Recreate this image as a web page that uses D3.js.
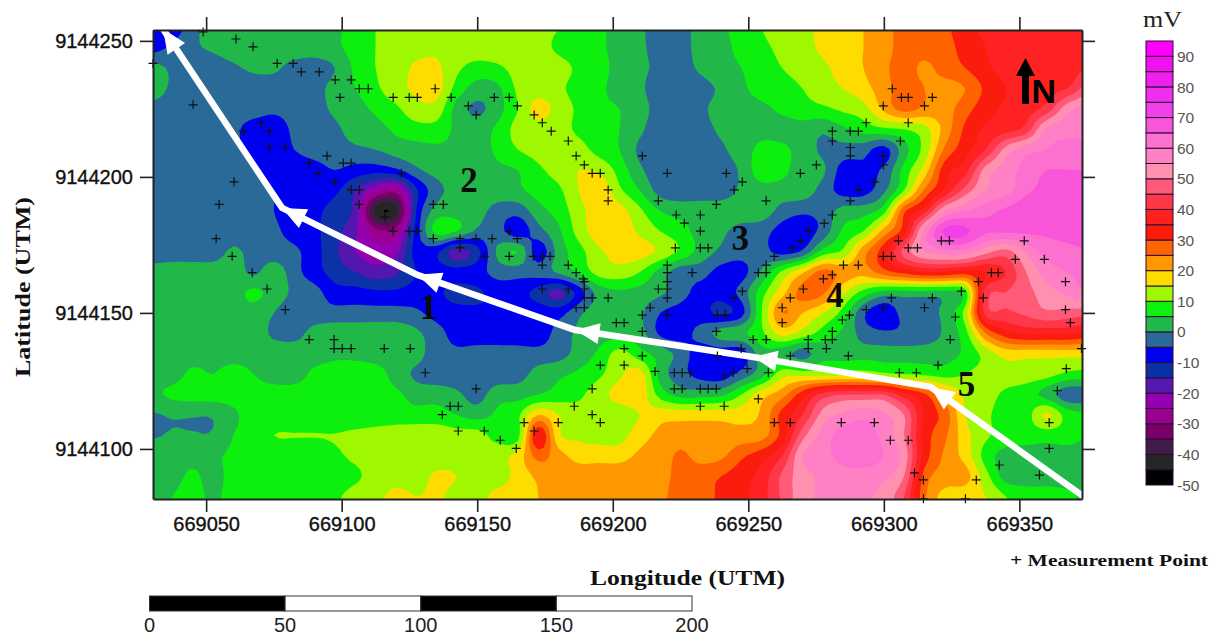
<!DOCTYPE html>
<html><head><meta charset="utf-8">
<script src="https://cdn.jsdelivr.net/npm/d3@7"></script>
<style>html,body{margin:0;padding:0;background:#fff}svg{display:block}</style>
</head><body><svg id="c" width="1217" height="637"></svg>
<script>
// --- DATA ---------------------------------------------------------------
const lonTicks=[669050,669100,669150,669200,669250,669300,669350];
const latTicks=[9144250,9144200,9144150,9144100];
const legendTicks=[90,80,70,60,50,40,30,20,10,0,-10,-20,-30,-40,-50];
const scaleTicks=[0,50,100,150,200];
const bandThresholds=[-50,-45,-40,-35,-30,-25,-20,-15,-10,-5,0,5,10,15,20,25,30,35,40,45,50,55,60,65,70,75,80,85,90];
const bandColors=["#000000","#262626","#421c48","#780068","#990090","#9400b0","#5518b0","#0a30a8","#0000f0","#2a6a98","#20b848","#10f010","#a0f800","#ffdc00","#ff9800","#ff6400","#fa1c08","#ff2020","#ff3848","#ff5a78","#ff90b0","#ff80c4","#fc70d0","#f855d8","#f040e8","#ee30ee","#ee20ee","#f010f0","#ff00ff"];
const gridLon0=669030, gridLat0=9144255, gridStep=7.5;
const potential=[
[-8,-8,-2,3,3,3,3,3,3,4,7,10,12,13,13,13,13,13,13,12,10,8,6,3,1,-3,-2,2,4,7,10,12,14,16,18,20,23,27,27,29,33,36,37,37,37,37,37],
[-7,-4,-1,1,3,3,3,3,3,4,7,10,12,13,14,13,13,13,13,12,9,7,6,3,1,-2,-2,2,4,6,9,11,13,16,18,20,23,27,27,28,32,35,37,38,38,38,36],
[2,-1,-3,-3,-1,1,1,-2,-3,0,6,10,12,16,16,11,8,9,12,13,12,9,7,3,1,-1,-2,1,4,5,8,10,12,14,17,20,24,27,24,27,30,34,37,39,38,37,40],
[3,-1,-3,-3,-3,-3,-3,-3,-2,2,5,9,13,16,17,8,3,4,11,13,11,8,6,3,1,-3,-3,-2,1,4,7,8,10,13,15,18,23,27,25,23,25,31,35,37,38,40,47],
[-2,-3,-3,-3,-3,-3,-4,-3,-2,1,3,6,9,13,13,3,-1,3,10,17,13,9,6,5,2,-2,-3,-1,2,3,4,6,8,9,11,13,21,27,24,23,28,33,36,38,42,53,57],
[-3,-3,-3,-3,-4,-7,-8,-4,-3,-1,2,3,6,8,8,4,3,6,12,13,12,9,7,5,1,-3,-3,-2,1,3,4,3,3,1,4,7,9,10,13,22,31,36,38,42,56,58,58],
[-3,-3,-3,-3,-4,-6,-8,-5,-3,-2,-1,0,2,3,4,4,3,6,10,12,13,12,8,5,-1,-3,-3,-3,-1,3,6,6,3,-1,-2,-3,-7,3,12,26,33,40,52,58,60,62,62],
[-3,-3,-3,-3,-3,-4,-8,-8,-7,-5,-7,-8,-6,-1,2,3,3,4,5,9,12,15,14,8,1,-3,-3,-3,-3,1,8,6,3,1,-7,-6,-4,7,17,33,38,52,57,62,65,65,65],
[-3,-3,-3,-3,-3,-3,-5,-8,-8,-9,-15,-24,-28,-11,-2,2,3,3,4,7,9,15,19,11,5,-2,-3,-3,-3,1,3,3,3,-2,-7,-7,-1,10,26,36,47,55,58,64,66,66,66],
[-3,-3,-3,-3,-3,-3,-5,-8,-9,-12,-17,-42,-42,-10,2,3,2,-2,-3,3,7,13,18,17,11,5,3,3,3,3,3,-2,-4,-3,2,3,8,29,38,55,60,63,66,68,68,68,67],
[-3,-3,-3,-3,-3,-3,-4,-7,-9,-13,-19,-28,-28,-8,7,5,-1,-3,-8,-2,4,12,18,18,14,10,7,3,1,-2,-3,-7,-8,-3,6,10,22,33,57,71,71,66,66,66,66,66,65],
[-3,-3,-3,-3,1,-2,-3,-4,-8,-14,-20,-23,-21,-8,-9,-18,-12,1,5,-8,2,8,14,17,17,14,9,3,-1,-3,-3,-7,-4,7,11,23,33,47,55,58,58,52,48,56,62,64,65],
[2,3,3,3,3,-1,3,-3,-8,-12,-15,-18,-16,-10,-8,-8,-7,-3,-3,-3,1,6,12,13,10,3,-3,-3,-7,-7,1,11,19,27,23,22,28,32,35,35,33,35,40,50,57,60,62],
[2,3,3,3,3,6,3,-1,-3,-8,-8,-9,-9,-8,-9,-12,-11,-8,-8,-12,-17,-8,2,4,3,1,-3,-7,-8,-3,8,18,27,26,16,8,3,3,3,3,7,42,45,48,53,56,60],
[3,3,3,3,3,3,0,-3,-3,-3,-3,-3,-3,-4,-7,-8,-9,-9,-8,-7,-7,-1,3,3,1,-5,-7,-8,-11,-7,10,25,20,15,8,-4,-9,-3,-3,2,12,42,44,46,49,48,47],
[3,3,3,3,3,3,-1,-2,2,3,3,3,3,1,-3,-7,-8,-8,-8,-8,-3,1,3,3,2,-6,-7,-3,2,4,9,17,13,8,4,-2,-4,-4,-3,1,8,25,33,36,36,36,34],
[3,3,3,3,3,3,3,3,3,4,4,3,3,2,-3,-4,-3,-3,-3,-3,-2,2,6,12,7,3,-2,-8,-8,-8,3,2,-2,3,3,3,3,3,3,3,6,12,17,17,17,17,17],
[3,3,6,5,7,5,3,3,6,7,7,7,3,-1,-3,-3,-3,-3,-2,2,4,6,9,14,17,3,-3,-7,-8,-3,3,13,13,13,13,13,11,10,9,8,10,12,13,13,12,9,8],
[4,6,7,7,7,7,7,7,7,7,7,7,6,3,3,1,-2,3,3,5,7,9,13,17,18,8,3,3,4,10,18,23,33,42,45,45,45,37,31,22,14,12,9,7,3,-3,-3],
[-0.5,0.4,0.3,0.5,4,7,7,7,7,7,7,7,7,7,7,5,3,6,9,20,15,12,12,12,15,18,18,18,18,18,21,32,40,52,56,58,56,50,34,28,15,11,8,8,16,8,6],
[-0.5,0.4,0.3,0.5,5,7,10,10.2,10.2,10.2,11,12,13,13,13,12,12,8,8,35,16,14,13,13,18,21,22,22,22,22,23,32,48,57,62,63,58,50,33,26,17,11,8,7,7,7,5],
[3,3,3,4,6,7,7,7,7,9,11,12,12,12,12,12,12,13,17,27,22,18,18,18,21,22,26,23,24,29,33,40,55,58,62,63,60,53,33,24,18,8,3,3,3,3,3],
[3,3,6,3,7,7,7,7,7,7,9,12,12,12,16,15,12,12,17,21,23,23,23,23,23,23,27,28,30,33,37,46,53,56,58,58,56,50,28,23,22,12,3,3,3,3,3],
[3,5,7,4,7,7,7,7,7,9,12,13,17,15,16,13,13,17,18,20,23,23,23,23,23,24,27,28,31,34,38,46,53,56,57,56,53,45,26,18,17,15,10,7,7,6,4],
[3,5,7,4,7,7,7,7,7,9,12,13,17,15,16,13,13,17,18,20,23,23,23,23,23,24,27,28,31,34,38,46,53,56,57,56,53,45,26,18,17,15,10,7,7,6,4]
];
// measurement points: [metres east of 669000, metres north of 9144000]
const lonBase=669000, latBase=9144000;
const measurementPoints=[
[61,250.7],[67.3,247.8],[76.2,241.7],[82.1,241.7],[85.1,238.6],[91.7,238.6],[97.6,235.7],[103.5,235.7],[106.5,232.4],[109.8,232.4],[99.4,229.2],[119,229.2],[124.9,229.2],[127.9,229.2],[134.5,232.4],[140.4,229.2],[146.7,226.1],[149.6,222.8],[156.3,229.2],[161.8,229.2],[164.8,226.1],[171,222.8],[174,219.9],[177.3,216.8],[183.6,213.2],[186.5,207.7],[189.5,204.4],[192.4,201.3],[195.4,201.3],[198.3,195.2],[198.3,191.2],
[45.2,226.5],[30.4,241.7],[48.9,253.3],[63.7,216.8],[70.3,219.9],[73.2,216.8],[73.2,210.8],[79.2,210.8],[94.6,207.7],[88,205.1],[100.6,205.1],[103.5,205.1],[91.3,201.3],[97.6,198.2],[103.5,195.2],[106.5,195.2],[106.5,189.9],[122,201.3],[60.3,198.2],[54.8,189.9],[53.7,177.3],[59.6,170.8],[67,164.8],[116,185.3],[119,180.1],[124.9,180.1],[127.9,180.1],[133.8,189.9],[137.5,189.9],[133.8,177.3],[143.7,177.3],[143.7,173.9],[149.6,177.3],[155.5,177.3],[164.8,177.3],[161.8,170.8],[152.6,170.8],[161.8,180.1],[170.7,170.8],[174,170.8],[176.9,170.8],[174,167.6],[183.6,167.6],[186.5,164.8],[189.1,162.5],
[72.5,158.8],[79.2,151.2],[88,140.2],[97.2,140.2],[97.2,136.9],[100.2,136.9],[103.5,136.9],[115.7,136.9],[125.3,136.9],[130.8,128],[149.6,122.1],[140,115.7],[143,115.7],[137.1,112.6],[143,106.6],[152.6,106.6],[158.5,103.2],[164.4,100.2],[167.3,109.7],[171,106.6],[179.9,109.7],[185.8,115.7],[192.4,122.1],[195.4,130.8],[192.4,112.6],[195.4,109.7],[201.3,146.4],[198.3,155.5],[192.4,155.5],[189.5,155.5],[189.5,158.8],[189.5,161.5],[183.6,158.8],[174,158.8],[186.5,151.9],[189.5,151.9],
[210.9,207.7],[220.1,201.3],[216.8,191.2],[223.4,186],[226.4,183],[232.3,186],[232.3,180.1],[223.1,173.9],[232.3,173.9],[235.2,173.9],[220.1,167.6],[220.1,164.8],[229.3,164.8],[238.2,189.9],[244.8,195.2],[247.8,198.2],[241.9,201.3],[256.6,191.2],[269.2,201.3],[275.1,204.4],[281,216.8],[281,213.2],[287.6,216.8],[290.6,216.8],[287.6,210.8],[287.6,207.7],[293.5,219.9],[299.8,226.1],[303.1,232.4],[306.5,229.2],[309,229.2],[315,226.1],[317.9,229.2],[309,219.9],[306.1,213.2],[299.8,207.7],[299.8,204.4],[296.5,198.2],[290.6,195.2],[287.6,191.2],[281,186],[278,183],[272.5,180.1],[269.2,176.5],[266.2,173.9],[259.6,170.8],[256.6,167.6],[256.6,164.8],[253.7,164.8],
[305.4,176.5],[309,173.9],[312.4,173.9],[321.2,176.5],[324.2,176.5],[351.8,176.5],[348.5,169.7],[359.2,169.7],[299.8,170.8],[302.8,170.8],[285.1,167.6],[290.6,167.6],[281,164],[277.7,162.5],[339.7,164.8],[342.2,164.8],
[220.1,161.5],[216.8,158.8],[220.1,158.8],[220.1,155.5],[213.8,151.9],[210.9,149.2],[204.2,146.4],[210.9,143.2],[204.2,136.9],[210.9,134.2],[204.2,130.8],[247.8,158],[244.8,155.5],[238.6,149.2],[241.5,149.2],[220.1,149.2],[238.2,143.2],[251.8,140.2],[256.6,140.2],[247.4,136.9],[238.6,134.2],[265.5,134.2],[272.1,140.2],[272.1,136.9],[278.4,140.2],[281,140.2],[281,143.2],[278.8,136.9],[286.9,134.2],[284.7,147.4],[287.3,149.2],[293.5,151.2],[299.8,151.9],[302.8,155.5],[315,151.9],[317.9,155.5],[328.6,158],[334.9,161.5],[326.4,148.5],[324.5,140.2],[320,130.8],[305.7,128],[312,128],[336.7,155.5],[367,161.5],[367,151.2],[368.8,146.4],[372.9,136.9],[367.3,129.5],[364,121.4],[361,109.7],[361,100.2],[357.4,90.4],[342.6,94.1],[334.1,88.6],[314.6,88.6],[311.3,91.2],[314.6,81.7],[330.1,81.7],[302.4,103.2],[309,103.2],[284.3,109.7],[296.5,109.7],[259.6,109.7],[265.5,109.7],[253.7,118.4],[241.1,115.7],[232.3,115.7],[222.7,122.1],[225.6,122.1],[232.3,122.1],[235.2,122.1],[238.2,122.1],[222.7,128],[225.6,128],[228.6,128],[249.6,129.5],[257.4,128],[241.1,126.9],[244.5,128],
[262.5,151.9],[265.5,155.5],[270.3,158.8],[262.5,146.4],[215.6,128.5]
];
const profileLon=[669374.4,669317.2,669251.8,669186.2,669127.9,669078,669034.1];
const profileLat=[9144082,9144122.8,9144133.8,9144143.7,9144164,9144188.6,9144254.4];
const siteLabels=["1","2","3","4","5"];
const siteLon=[669132,669147,669247,669282,669330.5];
const siteLat=[9144147.8,9144194.5,9144173.2,9144152.2,9144119.5];

// --- SCALES ------------------------------------------------------------
const x=d3.scaleLinear().domain([669030.4,669373.1]).range([153,1082]);
const y=d3.scaleLinear().domain([9144254,9144081.6]).range([30,499]);
const legendY=d3.scaleLinear().domain([95,-50]).range([41,485]);
const barX=d3.scaleLinear().domain([0,200]).range([149.5,692]);

const svg=d3.select("#c");
const sans='"Liberation Sans",Arial,sans-serif', serif='"Liberation Serif","Times New Roman",serif';
const defs=svg.append("defs");
defs.append("clipPath").attr("id","plot").append("rect").attr("x",153).attr("y",30).attr("width",929).attr("height",469);
defs.append("filter").attr("id","soft").attr("x",0).attr("y",0).attr("width",1).attr("height",1)
  .append("feGaussianBlur").attr("stdDeviation",0.7);

// --- CONTOUR MAP -------------------------------------------------------
const factor=4, rows=potential.length, cols=potential[0].length;
function cr(a,b,c,d,t){return 0.5*((2*b)+(c-a)*t+(2*a-5*b+4*c-d)*t*t+(3*b-a-3*c+d)*t*t*t);}
function resample(arr){
  const n=arr.length,out=[];
  for(let i=0;i<n-1;i++)for(let s=0;s<factor;s++){
    out.push(cr(arr[Math.max(i-1,0)],arr[i],arr[i+1],arr[Math.min(i+2,n-1)],s/factor));
  }
  out.push(arr[n-1]);return out;
}
const hr=potential.map(resample);
const nx=hr[0].length;
const colsOut=d3.range(nx).map(i=>resample(hr.map(r=>r[i])));
const ny=colsOut[0].length;
const vals=new Float64Array(nx*ny);
for(let j=0;j<ny;j++)for(let i=0;i<nx;i++)vals[j*nx+i]=colsOut[i][j];
const contours=d3.contours().size([nx,ny]).thresholds(bandThresholds)(vals);
const toPx=c=>[x(gridLon0+(c[0]-0.5)/factor*gridStep),y(gridLat0-(c[1]-0.5)/factor*gridStep)];
const path=d3.geoPath();
const project=g=>({type:g.type,coordinates:g.coordinates.map(poly=>poly.map(ring=>ring.map(toPx)))});
const clip=svg.append("g").attr("clip-path","url(#plot)");
const map=clip.append("g").attr("filter","url(#soft)");
map.selectAll("path").data(contours).join("path")
  .attr("d",d=>path(project(d)))
  .attr("fill",(d,i)=>bandColors[i]);

// --- PROFILE LINE WITH ARROWS ------------------------------------------
const profile=profileLon.map((v,i)=>[x(v),y(profileLat[i])]);
clip.append("path").attr("d",d3.line()(profile)).attr("fill","none")
  .attr("stroke","#fff").attr("stroke-width",6.5).attr("stroke-linejoin","round");
clip.selectAll("path.head").data(profile.slice(1)).join("path").attr("class","head")
  .attr("fill","#fff")
  .attr("d",(p,i)=>{
    const q=profile[i],a=Math.atan2(p[1]-q[1],p[0]-q[0]);
    return d3.line()([[p[0],p[1]],
      [p[0]-24*Math.cos(a)+10.5*Math.sin(a),p[1]-24*Math.sin(a)-10.5*Math.cos(a)],
      [p[0]-24*Math.cos(a)-10.5*Math.sin(a),p[1]-24*Math.sin(a)+10.5*Math.cos(a)]])+"Z";
  });

// --- MEASUREMENT POINTS ------------------------------------------------
svg.append("g").selectAll("path").data(measurementPoints).join("path")
  .attr("transform",d=>`translate(${x(lonBase+d[0])},${y(latBase+d[1])})`)
  .attr("d","M-4.5,0H4.5M0,-4.5V4.5").attr("stroke","#111").attr("stroke-width",1.2).attr("fill","none");

// --- SITE NUMBERS AND NORTH --------------------------------------------
svg.append("g").selectAll("text").data(siteLabels).join("text")
  .attr("x",(d,i)=>x(siteLon[i])).attr("y",(d,i)=>y(siteLat[i]))
  .attr("text-anchor","middle").attr("font-family",serif).attr("font-weight","bold")
  .attr("font-size",35).attr("fill","#0a0a0a").text(d=>d);
const north=svg.append("g");
north.append("path").attr("d","M1025.5,58L1035,76H1029V104H1022V76H1016Z").attr("fill","#000");
north.append("text").attr("x",1031.5).attr("y",103).attr("font-family",sans).attr("font-weight","bold")
  .attr("font-size",34).attr("fill","#000").text("N");

// --- AXES --------------------------------------------------------------
function styleAxis(g){
  g.selectAll("path.domain").attr("stroke","#222").attr("stroke-width",2);
  g.selectAll(".tick line").attr("stroke","#222").attr("stroke-width",1.6);
  g.selectAll("text").attr("font-family",sans).attr("font-size",20).attr("fill","#111")
    .attr("stroke","#111").attr("stroke-width",0.35);
}
const fmt=d3.format("d");
svg.append("g").attr("transform","translate(0,499)")
  .call(d3.axisBottom(x).tickValues(lonTicks).tickFormat(fmt).tickSize(13).tickSizeOuter(0).tickPadding(5)).call(styleAxis);
svg.append("g").attr("transform","translate(0,30)")
  .call(d3.axisTop(x).tickValues(lonTicks).tickFormat("").tickSize(13).tickSizeOuter(0)).call(styleAxis);
svg.append("g").attr("transform","translate(153,0)")
  .call(d3.axisLeft(y).tickValues(latTicks).tickFormat(fmt).tickSize(13).tickSizeOuter(0).tickPadding(7)).call(styleAxis);
svg.append("g").attr("transform","translate(1082,0)")
  .call(d3.axisRight(y).tickValues(latTicks).tickFormat("").tickSize(13).tickSizeOuter(0)).call(styleAxis);

// --- TITLES ------------------------------------------------------------
function title(txt,tx,ty,rot,size,len){
  svg.append("text").attr("transform",`translate(${tx},${ty}) rotate(${rot})`)
    .attr("text-anchor","middle").attr("font-family",serif).attr("font-weight","bold")
    .attr("font-size",size).attr("fill","#111").attr("textLength",len).attr("lengthAdjust","spacingAndGlyphs").text(txt);
}
title("Longitude (UTM)",687.5,585,0,21,195);
title("Latitude (UTM)",30,287,-90,20,180);
title("+ Measurement Point",1109,566,0,16,198);
svg.append("text").attr("x",1162.5).attr("y",27).attr("text-anchor","middle").attr("font-family",serif)
  .attr("font-size",23).attr("fill","#222").attr("textLength",39).attr("lengthAdjust","spacingAndGlyphs").text("mV");

// --- LEGEND ------------------------------------------------------------
const legend=svg.append("g");
legend.selectAll("rect").data(bandThresholds).join("rect")
  .attr("x",1146).attr("width",27)
  .attr("y",d=>legendY(d+5)).attr("height",d=>legendY(d)-legendY(d+5))
  .attr("fill",(d,i)=>bandColors[i]).attr("stroke","#2a0a30").attr("stroke-width",1);
legend.selectAll("text").data(legendTicks).join("text")
  .attr("x",1177).attr("y",d=>legendY(d)).attr("dy","0.36em")
  .attr("font-family",sans).attr("font-size",15.5).attr("fill","#555").text(d=>d);

// --- SCALE BAR ---------------------------------------------------------
const bar=svg.append("g");
bar.selectAll("rect").data(d3.pairs(scaleTicks)).join("rect")
  .attr("x",d=>barX(d[0])).attr("width",d=>barX(d[1])-barX(d[0])).attr("y",596).attr("height",15)
  .attr("fill",(d,i)=>i%2?"#fff":"#000").attr("stroke","#333").attr("stroke-width",1);
bar.selectAll("text").data(scaleTicks).join("text")
  .attr("x",d=>barX(d)).attr("y",632).attr("text-anchor","middle")
  .attr("font-family",sans).attr("font-size",20).attr("fill","#222").text(d=>d);
</script></body></html>
